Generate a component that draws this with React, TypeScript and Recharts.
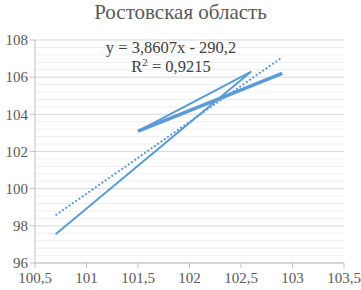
import { ComposedChart, Line, XAxis, YAxis, CartesianGrid, ReferenceLine } from "recharts";

const seriesThin = [
  { x: 100.7, y: 97.55 },
  { x: 102.6, y: 106.3 },
  { x: 101.5, y: 103.1 },
];
const seriesThick = [
  { x: 101.5, y: 103.1 },
  { x: 101.8, y: 103.75 },
  { x: 102.2, y: 104.65 },
  { x: 102.9, y: 106.2 },
];
const trend = [
  { x: 100.7, y: 98.57 },
  { x: 102.9, y: 107.07 },
];
const xTicks = [100.5, 101, 101.5, 102, 102.5, 103, 103.5];
const yTicks = [96, 98, 100, 102, 104, 106, 108];
const minorY = Array.from({ length: 31 }, (_, i) => +(96 + i * 0.4).toFixed(1)).filter(
  (v) => !yTicks.includes(v)
);

const blue = "#5B9BD5";
const font = "'Liberation Serif', serif";
const fmt = (v: number) => String(v).replace(".", ",");

export default function App() {
  return (
    <div style={{ position: "absolute", left: 0, top: 0, width: 361, height: 290, background: "#fff", fontFamily: font }}>
      <div style={{ position: "absolute", top: 0, width: 361, textAlign: "center", fontSize: 21, color: "#595959", lineHeight: "24px" }}>
        Ростовская область
      </div>
      <ComposedChart width={361} height={290} margin={{ top: 40, right: 17, bottom: 3, left: 0 }}>
        {minorY.map((v) => (
          <ReferenceLine key={v} y={v} stroke="#EEEEEE" strokeWidth={1} />
        ))}
        <CartesianGrid vertical={false} stroke="#D9D9D9" />
        <XAxis
          type="number"
          dataKey="x"
          domain={[100.5, 103.5]}
          ticks={xTicks}
          tickFormatter={fmt}
          height={24}
          tickSize={5}
          tickMargin={4}
          stroke="#BFBFBF"
          tick={{ fill: "#595959", fontSize: 15, style: { fontFamily: font } }}
          allowDataOverflow
        />
        <YAxis
          type="number"
          dataKey="y"
          domain={[96, 108]}
          ticks={yTicks}
          width={35}
          tickSize={5}
          tickMargin={2}
          stroke="#BFBFBF"
          tick={{ fill: "#595959", fontSize: 15, style: { fontFamily: font } }}
        />
        <Line data={seriesThin} dataKey="y" stroke={blue} strokeWidth={2} dot={false} isAnimationActive={false} />
        <Line data={seriesThick} dataKey="y" stroke={blue} strokeWidth={3.5} dot={false} isAnimationActive={false} />
        <Line
          data={trend}
          dataKey="y"
          stroke={blue}
          strokeWidth={2}
          strokeDasharray="2 2"
          dot={false}
          isAnimationActive={false}
        />
      </ComposedChart>
      <div style={{ position: "absolute", top: 38, left: 91, width: 160, textAlign: "center", fontSize: 16.5, color: "#404040", lineHeight: "19px" }}>
        <div>y = 3,8607x - 290,2</div>
        <div>
          R<sup style={{ fontSize: 11, verticalAlign: "top", lineHeight: "11px" }}>2</sup> = 0,9215
        </div>
      </div>
    </div>
  );
}
